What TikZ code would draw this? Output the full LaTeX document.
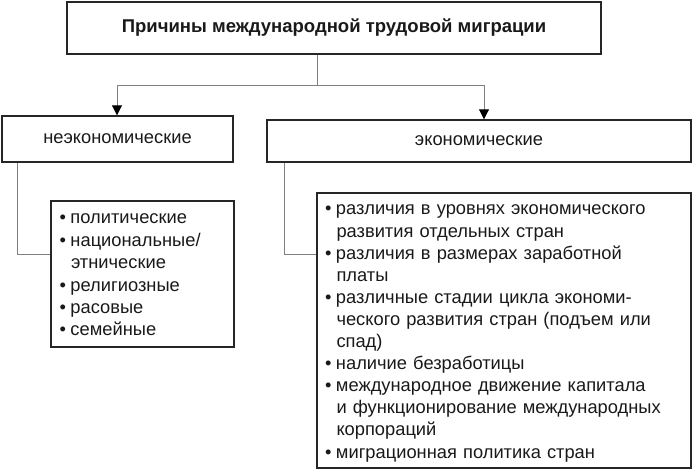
\documentclass[tikz,border=0pt]{standalone}
\usepackage{fontspec}
\setmainfont{Liberation Sans}
\usetikzlibrary{arrows.meta}
\newcommand\bul{\makebox[11pt][l]{\textbullet}}
\newcommand\ind{\hspace*{11.5pt}}
\begin{document}
\begin{tikzpicture}[x=1pt,y=-1pt,
  box/.style={draw=black!85, line width=1.4pt, inner sep=0pt, rectangle, text=black!90},
  conn/.style={draw=black!50, line width=0.9pt},
  arr/.style={conn, -{Triangle[width=10pt,length=10pt,color=black]}},
  lab/.style={font=\fontsize{18.3}{21}\selectfont},
  lst/.style={align=left, inner sep=0pt, text=black!90},
  lstl/.style={lst, font=\fontsize{18.3}{22.4}\selectfont},
  lstr/.style={lst, font=\fontsize{18.3}{22.1}\selectfont}]
\useasboundingbox (0,0) rectangle (693,471);
\node[box, minimum width=534pt, minimum height=52pt, font=\bfseries\fontsize{18.5}{21}\selectfont] (title) at (334,28) {Причины международной трудовой миграции};
\node[box, lab, minimum width=231pt, minimum height=46pt] (ne) at (117.5,139) {неэкономические};
\node[box, lab, minimum width=424pt, minimum height=42pt] (ec) at (479,141) {экономические};
\node[box, minimum width=183pt, minimum height=146pt] (lne) at (142.5,274) {};
\node[lstl, text width=166pt, anchor=center] (lnet) at ([yshift=-1pt]lne.center) {%
\bul политические\\
\bul национальные/\\
\ind этнические\\
\bul религиозные\\
\bul расовые\\
\bul семейные};
\node[box, minimum width=374pt, minimum height=275pt] (lec) at (504,330.5) {};
\node[lstr, text width=358pt, anchor=center] (lect) at ([yshift=-3pt]lec.center) {%
\bul различия в уровнях экономического\\
\ind развития отдельных стран\\
\bul различия в размерах заработной\\
\ind платы\\
\bul различные стадии цикла экономи-\\
\ind ческого развития стран (подъем или\\
\ind спад)\\
\bul наличие безработицы\\
\bul международное движение капитала\\
\ind и функционирование международных\\
\ind корпораций\\
\bul миграционная политика стран};
\coordinate (j) at (317,85);
\coordinate (jl) at (117,85);
\coordinate (jr) at (484,85);
\draw[conn] (title.south -| j) -- (j);
\draw[arr] (j) -- (jl) -- (jl |- ne.north);
\draw[arr] (j) -- (jr) -- (jr |- ec.north);
\coordinate (cl) at (17,254);
\coordinate (cr) at (284,254);
\draw[conn] (ne.south -| cl) |- (lne.west |- cl);
\draw[conn] (ec.south -| cr) |- (lec.west |- cr);
\end{tikzpicture}
\end{document}
